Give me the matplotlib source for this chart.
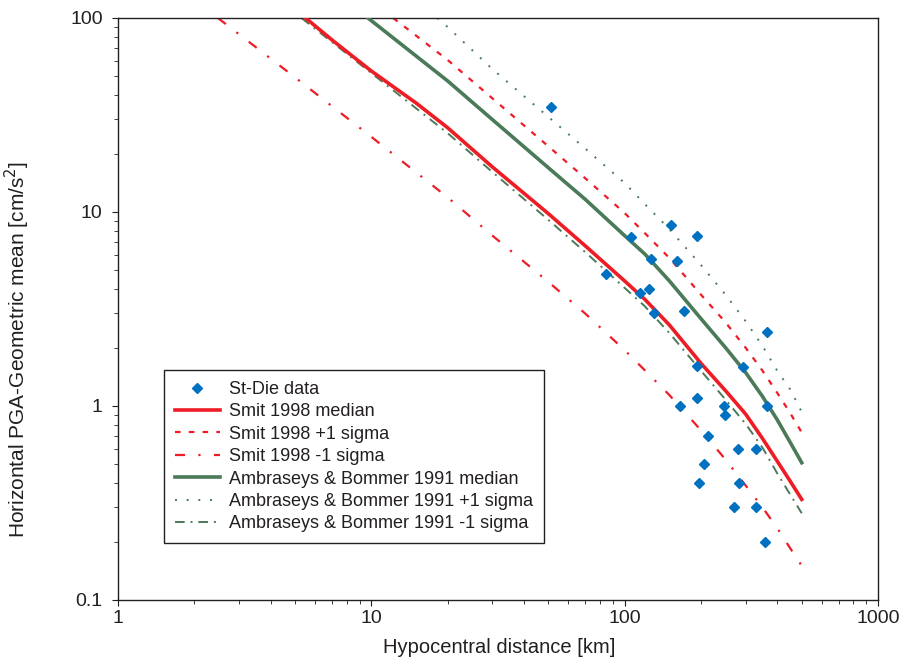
import matplotlib.pyplot as plt
import numpy as np

plt.rcParams['font.family'] = ['Liberation Sans', 'DejaVu Sans']

# St-Die observations (hypocentral distance km, PGA cm/s2)
obs_r = [51, 106, 152, 193, 127, 161, 84.5, 115, 125, 131, 172, 365, 193, 293,
         365, 165, 193, 247, 250, 213, 279, 330, 206, 196, 282, 270, 331, 359]
obs_pga = [34.8, 7.43, 8.6, 7.55, 5.72, 5.6, 4.79, 3.82, 4.01, 3.02, 3.09, 2.41, 1.61, 1.59,
           1.0, 1.0, 1.1, 1.0, 0.9, 0.7, 0.6, 0.6, 0.5, 0.4, 0.4, 0.3, 0.3, 0.2]

# Smit 1998
smit_r = [5.5, 7, 10, 15, 20, 30, 50, 70, 100, 120, 150, 200, 250, 300, 350, 400, 450, 500]
smit_med = [100, 77, 53.3, 36.5, 27.2, 17.1, 9.8, 6.68, 4.41, 3.55, 2.62, 1.66, 1.2, 0.91,
            0.68, 0.52, 0.41, 0.33]
smit_p_r = [12.2, 20, 30, 50, 70, 100, 120, 150, 200, 250, 300, 350, 400, 450, 500]
smit_p = [100, 60.8, 38.6, 21.8, 14.9, 9.87, 7.79, 5.8, 3.75, 2.7, 2.0, 1.52, 1.17, 0.92, 0.73]
smit_m_r = [2.48, 5, 10, 20, 30, 50, 70, 100, 120, 150, 200, 250, 300, 350, 400, 450, 500]
smit_m = [100, 49.4, 24.4, 11.9, 7.57, 4.36, 2.99, 1.94, 1.53, 1.14, 0.75, 0.53, 0.39,
          0.30, 0.235, 0.185, 0.15]

# Ambraseys & Bommer 1991
ab_r = [9.7, 20, 30, 50, 70, 100, 120, 150, 200, 250, 300, 350, 400, 450, 500]
ab_med = [100, 47.4, 30.0, 16.9, 11.6, 7.55, 6.08, 4.42, 2.82, 2.0, 1.49,
          1.12, 0.85, 0.65, 0.51]
ab_p_r = [18.2, 20, 30, 50, 70, 100, 120, 150, 200, 250, 300, 350, 400, 450, 500]
ab_p = [100, 89.9, 54.6, 30.9, 21.2, 14.1, 11.0, 8.17, 5.33, 3.75, 2.74, 2.04, 1.52, 1.22, 0.93]
ab_m_r = [5.3, 10, 20, 30, 50, 70, 100, 120, 150, 200, 250, 300, 350, 400, 450, 500]
ab_m = [100, 52, 25.5, 16.1, 9.1, 6.2, 4.06, 3.27, 2.38, 1.52, 1.08, 0.81,
        0.61, 0.45, 0.35, 0.28]

red = '#ee1c25'
green = '#4a7a58'
blue = '#0070c0'
ink = '#231f20'

fig = plt.figure(figsize=(9.09, 6.63), dpi=100)
ax = fig.add_axes([118/909, 1 - 600/663, 760/909, 582/663])

ax.plot(obs_r, obs_pga, linestyle='none', marker='D', markersize=5, color=blue,
        label='St-Die data', zorder=5)
ax.plot(smit_r, smit_med, color=red, lw=2.6, label='Smit 1998 median', zorder=4)
ax.plot(smit_p_r, smit_p, color=red, lw=1.6, linestyle=(0, (2.5, 3.7)), label='Smit 1998 +1 sigma')
ax.plot(smit_m_r, smit_m, color=red, lw=1.6, linestyle=(0, (4.5, 6, 1, 6)), label='Smit 1998 -1 sigma')
ax.plot(ab_r, ab_med, color=green, lw=2.6, label='Ambraseys & Bommer 1991 median', zorder=3)
ax.plot(ab_p_r, ab_p, color=green, lw=1.4, linestyle=(0, (1, 5)), label='Ambraseys & Bommer 1991 +1 sigma')
ax.plot(ab_m_r, ab_m, color=green, lw=1.4, linestyle=(0, (5, 3, 1, 3)),
        label='Ambraseys & Bommer 1991 -1 sigma', zorder=2)

ax.set_xscale('log')
ax.set_yscale('log')
ax.set_xlim(1, 1000)
ax.set_ylim(0.1, 100)
ax.set_xticks([1, 10, 100, 1000])
ax.set_xticklabels(['1', '10', '100', '1000'])
ax.set_yticks([0.1, 1, 10, 100])
ax.set_yticklabels(['0.1', '1', '10', '100'])
ax.tick_params(which='major', length=4, labelsize=14, colors=ink)
ax.tick_params(axis='y', which='major', pad=7)
ax.tick_params(which='minor', length=3, colors=ink)
for s in ax.spines.values():
    s.set_color(ink)
    s.set_linewidth(1.0)

ax.set_xlabel('Hypocentral distance [km]', fontsize=14.5, color=ink)
ax.xaxis.set_label_coords(0.502, -0.066)
ax.set_ylabel('Horizontal PGA-Geometric mean [cm/s$^2$]', fontsize=15, color=ink)
ax.yaxis.set_label_coords(-0.113, 0.43)

leg = ax.legend(loc='upper left', bbox_to_anchor=(0.0605, 0.395), borderaxespad=0,
                fontsize=13, frameon=True, fancybox=False, edgecolor=ink, framealpha=1,
                borderpad=0.6, labelspacing=0.3, handlelength=2.5, handletextpad=0.5)
leg.get_frame().set_linewidth(1.0)
for t in leg.get_texts():
    t.set_color(ink)

fig.savefig('out.png', dpi=100)
